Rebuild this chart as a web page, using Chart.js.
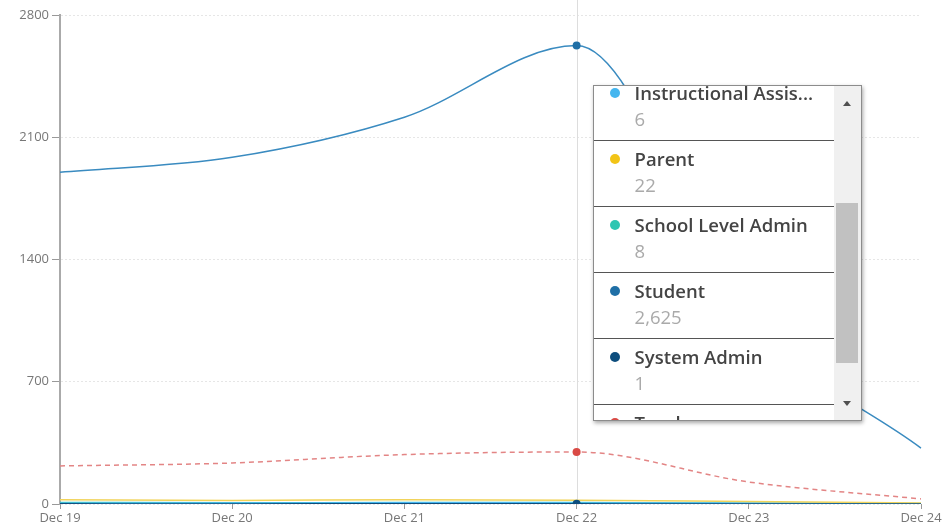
<!DOCTYPE html>
<html>
<head>
<meta charset="utf-8">
<script src="https://cdn.jsdelivr.net/npm/chart.js@4.4.1/dist/chart.umd.min.js"></script>
<style>
  body { margin: 0; background: #fff; }
  #wrap { position: relative; width: 952px; height: 531px; }
  #tip {
    position: absolute; top: 85px; width: 267px; height: 334px;
    background: #fff; border: 1px solid #8c8c8c;
    box-shadow: 1px 2px 4px rgba(0,0,0,0.35);
    overflow: hidden; display: none;
    font-family: "Open Sans", sans-serif;
  }
  #tip .list { position: absolute; left: 0; top: -11px; width: 240px; }
  #tip .row { position: relative; height: 65px; border-bottom: 1px solid #555; }
  #tip .dot { position: absolute; left: 16px; top: 13px; width: 10px; height: 10px; border-radius: 50%; }
  #tip .name { position: absolute; left: 41px; top: 7px; line-height: 22px; font-size: 18.5px; font-weight: 600; color: #444; white-space: nowrap; }
  #tip .val { position: absolute; left: 41px; top: 33px; line-height: 22px; font-size: 18.5px; color: #aaa; white-space: nowrap; }
  #tip .sb { position: absolute; right: 0; top: 0; width: 27px; height: 100%; background: #f0f0f0; }
  #tip .thumb { position: absolute; left: 2px; width: 22px; top: 117px; height: 160px; background: #c1c1c1; }
  #tip .up, #tip .down { position: absolute; left: 9px; width: 0; height: 0; border-left: 4px solid transparent; border-right: 4px solid transparent; }
  #tip .up { top: 15px; border-bottom: 5px solid #505050; }
  #tip .down { bottom: 14px; border-top: 5px solid #505050; }
</style>
</head>
<body>
<div id="wrap">
  <canvas id="chart"></canvas>
  <div id="tip"></div>
</div>
<script>
const days = ['Dec 19', 'Dec 20', 'Dec 21', 'Dec 22', 'Dec 23', 'Dec 24'];

const instructional = [5, 6, 7, 6, 4, 2];
const parent = [24, 20, 25, 22, 14, 6];
const schoolAdmin = [9, 7, 8, 8, 5, 3];
const student = [1900, 1985, 2215, 2625, 1060, 320];
const systemAdmin = [1, 0, 2, 1, 0, 0];
const teacher = [218, 235, 283, 298, 126, 29];

const yTicks = [0, 700, 1400, 2100, 2800];
const activeDay = 3;

function series(label, data, color, hover, order, hoverRadius, dash) {
  return {
    label: label,
    data: data,
    order: order,
    borderColor: color,
    backgroundColor: hover,
    borderWidth: 1.5,
    borderDash: dash || [],
    cubicInterpolationMode: 'monotone',
    pointRadius: 0,
    pointHoverRadius: hoverRadius,
    pointHoverBorderWidth: 0,
    pointHoverBackgroundColor: hover,
    fill: false
  };
}

// vertical line at the hovered day
const hoverLine = {
  id: 'hoverLine',
  beforeDatasetsDraw(chart) {
    const act = chart.tooltip.getActiveElements();
    if (!act.length) return;
    const x = chart.scales.x.getPixelForValue(act[0].index);
    const ctx = chart.ctx;
    ctx.save();
    ctx.strokeStyle = '#dddddd';
    ctx.lineWidth = 1;
    ctx.beginPath();
    ctx.moveTo(Math.round(x) + 0.5, 0);
    ctx.lineTo(Math.round(x) + 0.5, chart.chartArea.bottom);
    ctx.stroke();
    ctx.restore();
  }
};

function shortName(s) {
  return s.length > 20 ? s.slice(0, 19) + '...' : s;
}

function externalTip(context) {
  const tip = document.getElementById('tip');
  const t = context.tooltip;
  if (!t.dataPoints || !t.dataPoints.length) { tip.style.display = 'none'; return; }
  const points = t.dataPoints.slice().sort((a, b) => a.datasetIndex - b.datasetIndex);
  let html = '<div class="list">';
  points.forEach(p => {
    const ds = p.dataset;
    html += '<div class="row"><span class="dot" style="background:' + ds.pointHoverBackgroundColor + '"></span>' +
      '<div class="name">' + shortName(ds.label) + '</div>' +
      '<div class="val">' + p.raw.toLocaleString('en-US') + '</div></div>';
  });
  html += '</div><div class="sb"><div class="up"></div><div class="thumb"></div><div class="down"></div></div>';
  tip.innerHTML = html;
  tip.style.left = (t.caretX + 16) + 'px';
  tip.style.display = 'block';
}

const tickFont = { family: '"Open Sans", sans-serif', size: 13 };

const chart = new Chart(document.getElementById('chart'), {
  type: 'line',
  data: {
    labels: days,
    datasets: [
      series('Instructional Assistant', instructional, '#45b6ef', '#45b6ef', 4, 0),
      series('Parent', parent, '#f1d35a', '#f2c417', 3, 0),
      series('School Level Admin', schoolAdmin, '#3cc8b4', '#2dc6b2', 5, 0),
      series('Student', student, '#3a8bc0', '#1f6fa6', 1, 4),
      series('System Admin', systemAdmin, '#0d4d7d', '#0d4d7d', 0, 4),
      series('Teacher', teacher, '#e38585', '#d94a45', 2, 4, [5, 4])
    ]
  },
  options: {
    responsive: true,
    maintainAspectRatio: false,
    animation: false,
    layout: { padding: { top: 15, right: 31, left: 0, bottom: 0 } },
    interaction: { mode: 'index', intersect: false },
    plugins: {
      legend: { display: false },
      tooltip: { enabled: false, external: externalTip }
    },
    scales: {
      x: {
        ticks: { color: '#777', font: tickFont, padding: 1, maxRotation: 0 },
        grid: { drawOnChartArea: false, tickLength: 5, tickColor: '#999' },
        border: { display: false },
        afterFit(scale) { scale.height = 27; }
      },
      y: {
        min: 0,
        max: 2800,
        afterBuildTicks(scale) { scale.ticks = yTicks.map(v => ({ value: v })); },
        ticks: { color: '#777', font: tickFont, padding: 3, callback: v => String(v) },
        grid: { color: '#e6e6e6', tickLength: 8, tickColor: '#999', tickBorderDash: [] },
        border: { color: '#aaa', width: 2, dash: [2, 2] },
        afterFit(scale) { scale.width = 60; }
      }
    }
  },
  plugins: [hoverLine]
});

const active = chart.data.datasets.map((d, i) => ({ datasetIndex: i, index: activeDay }));
chart.setActiveElements(active);
chart.tooltip.setActiveElements(active, { x: chart.scales.x.getPixelForValue(activeDay), y: 100 });
chart.update();
</script>
</body>
</html>
